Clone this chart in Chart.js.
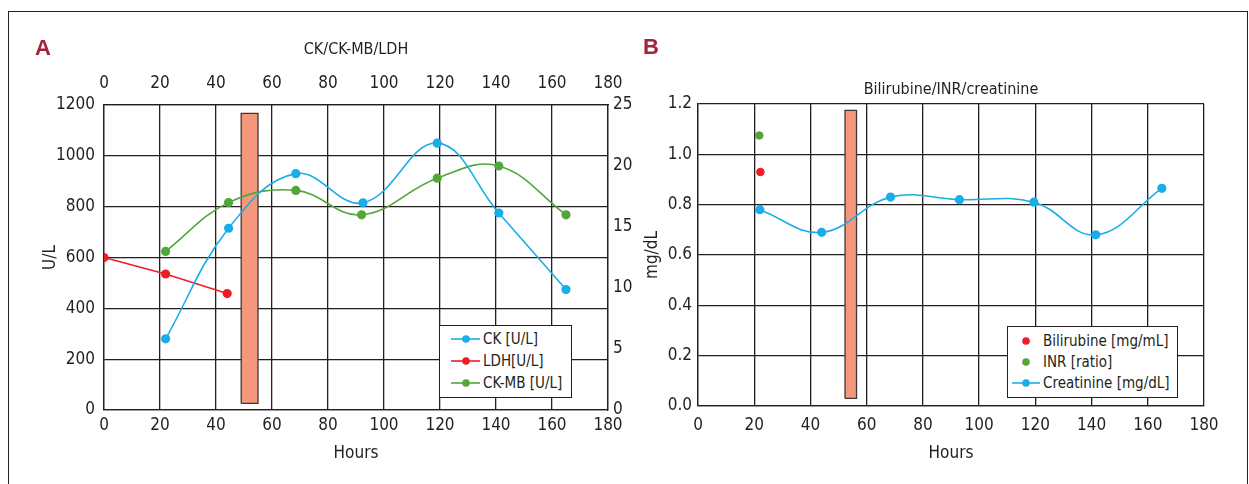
<!DOCTYPE html>
<html>
<head>
<meta charset="utf-8">
<script src="https://cdn.jsdelivr.net/npm/chart.js@4"></script>
<style>
  body { margin:0; background:#fff; font-family:'Liberation Sans Narrow','DejaVu Sans Condensed',sans-serif; color:#231f20; }
  #wrap { position:relative; width:1249px; height:484px; overflow:hidden; }
  .frame { position:absolute; left:8px; top:11px; width:1238px; height:520px; border:1px solid #231f20; }
  canvas { position:absolute; top:0; }
  .txt { position:absolute; transform:translate(-50%,-50%); white-space:nowrap; font-size:17px; }
  .letter { font-family:'Liberation Sans','DejaVu Sans',sans-serif; font-weight:bold; font-size:22px; color:#a3223e; }
  .legend { position:absolute; background:#fff; border:1.5px solid #231f20; box-sizing:border-box; }
  .legend .row { position:absolute; left:0; height:20px; font-size:15px; line-height:20px; white-space:nowrap; }
  .legend svg { position:absolute; top:0; }
</style>
</head>
<body>
<div id="wrap">
  <div class="frame"></div>
  <canvas id="chartA" width="640" height="484" style="left:0px"></canvas>
  <canvas id="chartB" width="609" height="484" style="left:640px"></canvas>

  <div class="txt letter" style="left:43px; top:48px">A</div>
  <div class="txt letter" style="left:651px; top:47px">B</div>
  <div class="txt" style="left:356px; top:48px; font-size:16px">CK/CK-MB/LDH</div>
  <div class="txt" style="left:951px; top:88px; font-size:16px">Bilirubine/INR/creatinine</div>

  <div class="legend" id="legA" style="left:439px; top:325px; width:133px; height:73px"></div>
  <div class="legend" id="legB" style="left:1007px; top:326px; width:171px; height:72px"></div>
</div>

<script>
// colours
const blue = '#19aee8'
const red = '#ee1d25'
const green = '#52a63b'
const salmon = '#f4977a'
const ink = '#231f20'

// panel A : CK / CK-MB / LDH
const hoursCK = [22, 44.5, 68.5, 92.5, 119, 141, 165]
const ck = [280, 715, 930, 815, 1050, 775, 474]
const hoursLDH = [0, 22, 44]
const ldh = [600, 535, 458]
const hoursCKMB = [22, 44.5, 68.5, 92, 119, 141, 165]
const ckmb = [13, 17, 18, 16, 19, 20, 16]
const shadeA = {from: 49, to: 55, low: 26, high: 1167}

// panel B : bilirubine / INR / creatinine
const hoursCreat = [22, 44, 68.5, 93, 119.5, 141.5, 165]
const creat = [0.78, 0.69, 0.83, 0.82, 0.81, 0.68, 0.865]
const hoursBili = [22.2]
const bili = [0.93]
const hoursINR = [21.8]
const inr = [1.075]
const shadeB = {from: 52.3, to: 56.4, low: 0.03, high: 1.175}

// axes ticks
const hourTicks = {min: 0, max: 180, step: 20}
const ulTicks = {min: 0, max: 1200, step: 200}
const ckmbTicks = {min: 0, max: 25, step: 5}
const mgTicks = {min: 0, max: 1.2, step: 0.2}

Chart.defaults.font.family = "'Liberation Sans Narrow','DejaVu Sans Condensed',sans-serif"
Chart.defaults.font.size = 17
Chart.defaults.color = ink

function pts(xs, ys) {
  return xs.map((x, i) => ({x: x, y: ys[i]}))
}
function rect(s) {
  return [{x: s.from, y: s.low}, {x: s.from, y: s.high}, {x: s.to, y: s.high}, {x: s.to, y: s.low}, {x: s.from, y: s.low}]
}
function fixW(w) { return function(scale) { scale.width = w } }
function fixH(h) { return function(scale) { scale.height = h } }

const gridOn = {color: ink, lineWidth: 1.3, drawTicks: false}
const noTitle = {top: 0, bottom: 0}

function lineSet(label, data, color, axis, smooth) {
  return {
    label: label, data: data, yAxisID: axis,
    borderColor: color, backgroundColor: color,
    borderWidth: 1.6, pointRadius: 3.8, pointHoverRadius: 3.8,
    tension: smooth ? 0.4 : 0, showLine: true, order: 1
  }
}
function shadeSet(s, axis) {
  return {
    data: rect(s), yAxisID: axis, showLine: true, tension: 0,
    borderColor: '#3a3a3a', borderWidth: 1.3, backgroundColor: salmon,
    fill: 'shape', pointRadius: 0, order: 10
  }
}

new Chart(document.getElementById('chartA'), {
  type: 'scatter',
  data: {
    datasets: [
      lineSet('CK [U/L]', pts(hoursCK, ck), blue, 'y', true),
      lineSet('LDH[U/L]', pts(hoursLDH, ldh), red, 'y', false),
      lineSet('CK-MB [U/L]', pts(hoursCKMB, ckmb), green, 'y2', true),
      shadeSet(shadeA, 'y')
    ]
  },
  options: {
    responsive: false, animation: false, events: [],
    layout: {autoPadding: false, padding: {left: 40, right: 0, top: 0, bottom: 20}},
    plugins: {legend: {display: false}, tooltip: {enabled: false}},
    scales: {
      x: {
        type: 'linear', position: 'bottom', min: hourTicks.min, max: hourTicks.max,
        ticks: {stepSize: hourTicks.step, padding: 5, maxRotation: 0},
        grid: gridOn, border: {color: ink, width: 1.3},
        title: {display: true, text: 'Hours', padding: noTitle, font: {size: 17}},
        afterFit: fixH(54)
      },
      x2: {
        type: 'linear', position: 'top', min: hourTicks.min, max: hourTicks.max,
        ticks: {stepSize: hourTicks.step, padding: 11, maxRotation: 0},
        grid: {display: false, drawTicks: false}, border: {color: ink, width: 1.3},
        afterFit: fixH(105)
      },
      y: {
        position: 'left', min: ulTicks.min, max: ulTicks.max,
        ticks: {stepSize: ulTicks.step, padding: 9, callback: v => String(v)},
        grid: gridOn, border: {color: ink, width: 1.3},
        title: {display: true, text: 'U/L', padding: noTitle, font: {size: 17}},
        afterFit: fixW(64)
      },
      y2: {
        position: 'right', min: ckmbTicks.min, max: ckmbTicks.max,
        ticks: {stepSize: ckmbTicks.step, padding: 5},
        grid: {display: false, drawTicks: false}, border: {color: ink, width: 1.3},
        afterFit: fixW(32)
      }
    }
  }
})

new Chart(document.getElementById('chartB'), {
  type: 'scatter',
  data: {
    datasets: [
      {label: 'Bilirubine [mg/mL]', data: pts(hoursBili, bili), backgroundColor: red, borderColor: red, pointRadius: 3.8, order: 1},
      {label: 'INR [ratio]', data: pts(hoursINR, inr), backgroundColor: green, borderColor: green, pointRadius: 3.8, order: 1},
      lineSet('Creatinine [mg/dL]', pts(hoursCreat, creat), blue, 'y', true),
      shadeSet(shadeB, 'y')
    ]
  },
  options: {
    responsive: false, animation: false, events: [],
    layout: {autoPadding: false, padding: {left: 2, right: 45, top: 104, bottom: 20}},
    plugins: {legend: {display: false}, tooltip: {enabled: false}},
    scales: {
      x: {
        type: 'linear', position: 'bottom', min: hourTicks.min, max: hourTicks.max,
        ticks: {stepSize: hourTicks.step, padding: 9, maxRotation: 0},
        grid: gridOn, border: {color: ink, width: 1.3},
        title: {display: true, text: 'Hours', padding: noTitle, font: {size: 17}},
        afterFit: fixH(58)
      },
      y: {
        position: 'left', min: mgTicks.min, max: mgTicks.max,
        ticks: {stepSize: mgTicks.step, padding: 6, callback: v => v.toFixed(1)},
        grid: gridOn, border: {color: ink, width: 1.3},
        title: {display: true, text: 'mg/dL', padding: noTitle, font: {size: 17}},
        afterFit: fixW(56)
      }
    }
  }
})

// legends drawn as html boxes
function legend(id, items, lineX0, lineX1, dotX, textX, rowsY) {
  const box = document.getElementById(id)
  items.forEach((it, i) => {
    const row = document.createElement('div')
    row.className = 'row'
    row.style.top = (rowsY[i] - 10) + 'px'
    let svg = '<svg width="' + (textX) + '" height="20" style="left:0">'
    if (it.line) svg += '<line x1="' + lineX0 + '" y1="10" x2="' + lineX1 + '" y2="10" stroke="' + it.color + '" stroke-width="1.6"/>'
    svg += '<circle cx="' + dotX + '" cy="10" r="3.8" fill="' + it.color + '"/></svg>'
    row.innerHTML = svg + '<span style="position:absolute; left:' + textX + 'px">' + it.text + '</span>'
    box.appendChild(row)
  })
}
legend('legA', [
  {text: 'CK [U/L]', color: blue, line: true},
  {text: 'LDH[U/L]', color: red, line: true},
  {text: 'CK-MB [U/L]', color: green, line: true}
], 11, 40, 26, 43, [13, 35, 57])
legend('legB', [
  {text: 'Bilirubine [mg/mL]', color: red, line: false},
  {text: 'INR [ratio]', color: green, line: false},
  {text: 'Creatinine [mg/dL]', color: blue, line: true}
], 4, 32, 18, 35, [14, 35, 56])
</script>
</body>
</html>
